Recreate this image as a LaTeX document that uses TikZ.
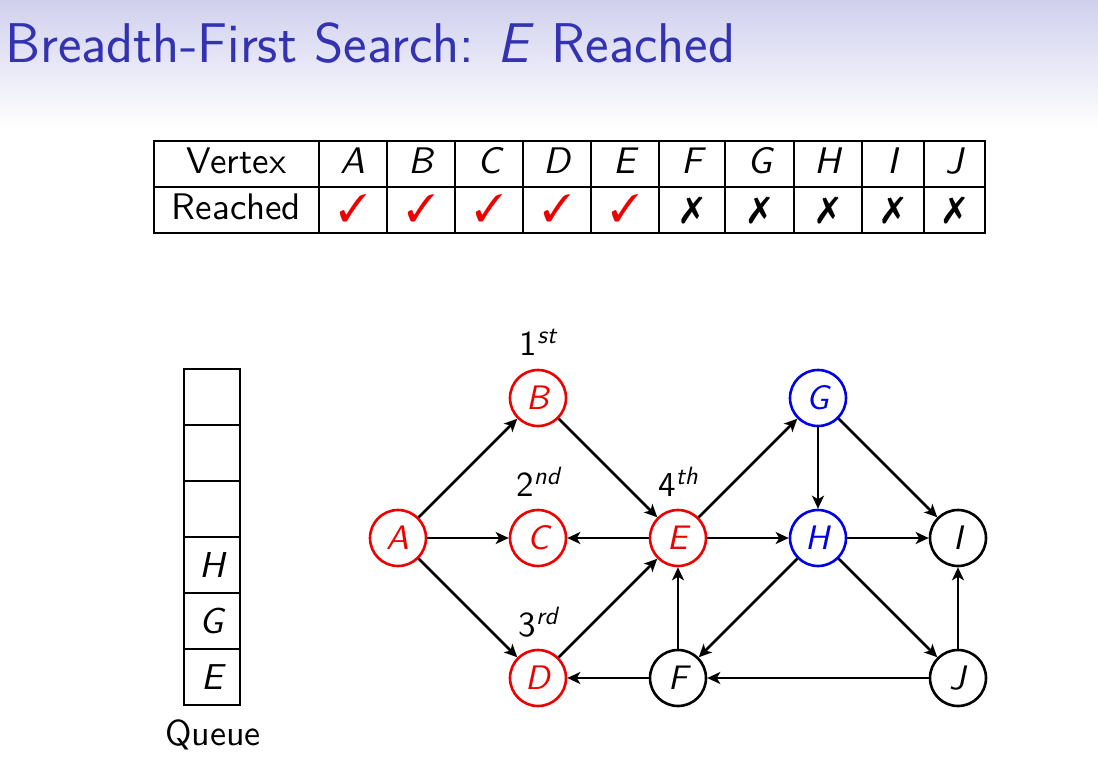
\documentclass[tikz,border=0pt]{standalone}
\usepackage{fontspec}
\usepackage{pifont}
\usetikzlibrary{arrows.meta}
% text face: the 10pt design of Latin Modern Sans, scaled up
\newfontfamily\bodyfont{lmsans10-regular.otf}[ItalicFont=lmsans10-oblique.otf]
\definecolor{titleblue}{RGB}{51,51,178}
\definecolor{headtop}{RGB}{208,208,238}
\definecolor{seenred}{RGB}{238,0,0}
\definecolor{queueblue}{RGB}{0,0,230}
% ordinal label: number with a raised italic suffix
\newcommand{\ordlabel}[2]{#1\raisebox{12pt}{\fontsize{25}{28}\selectfont\itshape #2}}
\begin{document}
\begin{tikzpicture}[x=1pt,y=-1pt,
  txt/.style={inner sep=0pt,font=\fontsize{37}{42}\selectfont\bodyfont},
  itxt/.style={inner sep=0pt,font=\fontsize{37}{42}\selectfont\bodyfont\itshape},
  vtx/.style={circle,draw,line width=2.6pt,minimum size=56pt,inner sep=0pt,
    font=\fontsize{34}{40}\selectfont\bodyfont\itshape},
  seen/.style={vtx,draw=seenred,text=seenred},
  queued/.style={vtx,draw=queueblue,text=queueblue},
  fresh/.style={vtx,draw=black,text=black},
  edge/.style={line width=2.7pt,-{Stealth[length=13pt,width=12pt,inset=3.5pt]}},
  qcell/.style={draw,line width=2.5pt,minimum size=56pt,inner sep=0pt,
    font=\fontsize{36}{40}\selectfont\bodyfont\itshape},
  ordinal/.style={anchor=base,inner sep=0pt,font=\fontsize{35}{40}\selectfont\bodyfont},
  grid/.style={line width=2pt}]
\useasboundingbox (0,0) rectangle (1098,774);

% header band and title
\shade[top color=headtop,bottom color=white] (0,0) rectangle (1098,128);
\node[anchor=base west,inner sep=0pt,text=titleblue,
  font=\fontsize{56}{62}\selectfont\sffamily] (title) at (5,62)
  {Breadth-First Search: \textit{E} Reached};

% reached table
\draw[grid] (154,141) rectangle (985,233);
\draw[grid] (154,187) -- (985,187);
\foreach \x in {319,387,455,523,591,659,725,794,862,924}
  \draw[grid] (\x,141) -- (\x,233);
\node[txt,anchor=base] (hVertex) at (236.5,173) {Vertex};
\node[txt,anchor=base] (rReached) at (236.5,219) {Reached};
\foreach \l/\r/\v in {319/387/A,387/455/B,455/523/C,523/591/D,591/659/E}{
  \node[itxt,anchor=base] (h\v) at ({(\l+\r)/2},173) {\v};
  \node[inner sep=0pt,anchor=base,text=seenred,font=\fontsize{38}{42}\selectfont]
    (r\v) at ({(\l+\r)/2},221) {\ding{51}};
}
\foreach \l/\r/\v in {659/725/F,725/794/G,794/862/H,862/924/I,924/985/J}{
  \node[itxt,anchor=base] (h\v) at ({(\l+\r)/2},173) {\v};
  \node[inner sep=0pt,anchor=base,font=\fontsize{37}{42}\selectfont]
    (r\v) at ({(\l+\r)/2},221) {\ding{55}};
}

% queue
\node[qcell] (q1) at (212,397) {};
\node[qcell] (q2) at (212,453) {};
\node[qcell] (q3) at (212,509) {};
\node[qcell] (q4) at (212,565) {H};
\node[qcell] (q5) at (212,621) {G};
\node[qcell] (q6) at (212,677) {E};
\node[txt,anchor=base,font=\fontsize{36}{40}\selectfont\bodyfont] (qlabel) at (213,745) {Queue};

% graph vertices
\node[seen]   (A) at (398,538) {A};
\node[seen]   (B) at (538,398) {B};
\node[seen]   (C) at (538,538) {C};
\node[seen]   (D) at (538,678) {D};
\node[seen]   (E) at (678,538) {E};
\node[fresh]  (F) at (678,678) {F};
\node[queued] (G) at (818,398) {G};
\node[queued] (H) at (818,538) {H};
\node[fresh]  (I) at (958,538) {I};
\node[fresh]  (J) at (958,678) {J};

% visiting order
\node[ordinal] (o1) at (538,355) {\ordlabel{1}{st}};
\node[ordinal] (o2) at (538,496) {\ordlabel{2}{nd}};
\node[ordinal] (o3) at (538,636) {\ordlabel{3}{rd}};
\node[ordinal] (o4) at (678,496) {\ordlabel{4}{th}};

% edges
\draw[edge] (A) -- (B);
\draw[edge] (A) -- (C);
\draw[edge] (A) -- (D);
\draw[edge] (B) -- (E);
\draw[edge] (E) -- (C);
\draw[edge] (D) -- (E);
\draw[edge] (F) -- (E);
\draw[edge] (F) -- (D);
\draw[edge] (E) -- (G);
\draw[edge] (E) -- (H);
\draw[edge] (G) -- (H);
\draw[edge] (G) -- (I);
\draw[edge] (H) -- (I);
\draw[edge] (H) -- (F);
\draw[edge] (H) -- (J);
\draw[edge] (J) -- (I);
\draw[edge] (J) -- (F);
\end{tikzpicture}
\end{document}
